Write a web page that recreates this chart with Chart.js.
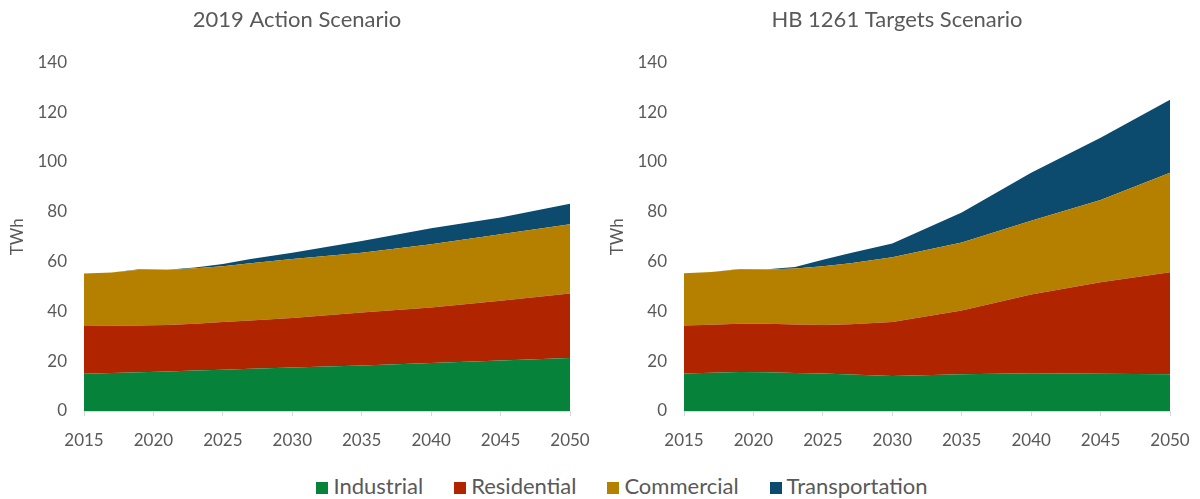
<!DOCTYPE html>
<html>
<head>
<meta charset="utf-8">
<script src="https://cdn.jsdelivr.net/npm/chart.js@4.4.0/dist/chart.umd.min.js"></script>
<style>
  body { margin: 0; background: #fff; width: 1200px; height: 499px; overflow: hidden; font-family: Lato, sans-serif; }
  .box { position: absolute; top: 0; width: 600px; height: 462px; }
  #legend { position: absolute; left: 44px; top: 472px; width: 1156px; display: flex; justify-content: center; gap: 31px; font-size: 22px; color: #595959; line-height: 28px; }
  #legend span.sw { display: inline-block; width: 12px; height: 12px; margin-right: 5px; vertical-align: 0px; }
</style>
</head>
<body>
<div class="box" style="left:0"><canvas id="chart-action"></canvas></div>
<div class="box" style="left:600px"><canvas id="chart-hb"></canvas></div>
<div id="legend"></div>

<script>
const years = [2015, 2017, 2019, 2021, 2023, 2025, 2027, 2030, 2035, 2040, 2045, 2050];
const seriesNames = ["Industrial", "Residential", "Commercial", "Transportation"];
const seriesColors = ["#07823a", "#b02400", "#b58000", "#0c4b6e"];

// 2019 Action Scenario (TWh)
const actionIndustrial     = [15.0, 15.3, 15.6, 15.9, 16.3, 16.6, 17.0, 17.5, 18.3, 19.3, 20.3, 21.3];
const actionResidential    = [19.1, 18.9, 18.7, 18.6, 18.7, 19.1, 19.3, 19.8, 21.3, 22.3, 24.0, 25.9];
const actionCommercial     = [21.1, 21.4, 22.4, 22.1, 22.3, 22.4, 23.0, 23.7, 24.0, 25.4, 26.7, 27.8];
const actionTransportation = [0, 0, 0.2, 0.1, 0.3, 0.9, 1.7, 2.6, 4.7, 6.4, 6.7, 8.2];

// HB 1261 Targets Scenario (TWh)
const hbIndustrial     = [15.1, 15.4, 15.7, 15.6, 15.3, 15.1, 14.7, 14.1, 14.8, 15.2, 15.0, 14.8];
const hbResidential    = [19.2, 19.2, 19.3, 19.4, 19.4, 19.4, 20.1, 21.6, 25.6, 31.6, 36.7, 40.9];
const hbCommercial     = [21.0, 21.2, 21.9, 21.8, 22.5, 23.6, 24.5, 26.0, 27.3, 29.6, 33.0, 40.0];
const hbTransportation = [0, 0, 0.1, 0.1, 0.6, 2.6, 4.2, 5.6, 12.0, 19.3, 25.0, 29.3];

const yTicks = [0, 20, 40, 60, 80, 100, 120, 140];
const xTicks = [2015, 2020, 2025, 2030, 2035, 2040, 2045, 2050];

const textColor = "#595959";
Chart.defaults.font.family = "Lato, sans-serif";
Chart.defaults.color = textColor;

function makeDatasets(lists) {
  return lists.map((vals, i) => ({
    label: seriesNames[i],
    data: vals.map((v, j) => ({ x: years[j], y: v })),
    backgroundColor: seriesColors[i],
    borderColor: seriesColors[i],
    borderWidth: 0,
    pointRadius: 0,
    tension: 0,
    fill: i === 0 ? "origin" : "-1",
  }));
}

function makeChart(id, title, lists) {
  const ctx = document.getElementById(id).getContext("2d");
  return new Chart(ctx, {
    type: "line",
    data: { datasets: makeDatasets(lists) },
    options: {
      responsive: true,
      maintainAspectRatio: false,
      animation: false,
      layout: { padding: { left: 24, right: 30, top: 0, bottom: 0 } },
      plugins: {
        legend: { display: false },
        tooltip: { enabled: false },
        title: {
          display: true,
          text: title,
          color: textColor,
          font: { size: 22, weight: "normal" },
          padding: { top: 7, bottom: 29 },
        },
      },
      scales: {
        x: {
          type: "linear",
          min: 2015,
          max: 2050,
          afterBuildTicks: (scale) => { scale.ticks = xTicks.map((v) => ({ value: v })); },
          afterFit: (scale) => { scale.height = 51; },
          ticks: {
            color: textColor,
            font: { size: 17, lineHeight: 2.2 },
            padding: 6,
            maxRotation: 0,
            callback: (v) => String(v),
          },
          grid: { drawOnChartArea: false, drawTicks: true, tickLength: 5, color: "#d9d9d9" },
          border: { display: true, color: "#d9d9d9" },
        },
        y: {
          stacked: true,
          min: 0,
          max: 140,
          afterBuildTicks: (scale) => { scale.ticks = yTicks.map((v) => ({ value: v })); },
          afterFit: (scale) => { scale.width = 60; },
          title: {
            display: true,
            text: "TWh",
            color: textColor,
            font: { size: 17 },
            padding: { top: -17, bottom: 0 },
          },
          ticks: { color: textColor, font: { size: 17 }, padding: 17 },
          grid: { display: false, drawTicks: false },
          border: { display: false },
        },
      },
    },
  });
}

makeChart("chart-action", "2019 Action Scenario",
  [actionIndustrial, actionResidential, actionCommercial, actionTransportation]);
makeChart("chart-hb", "HB 1261 Targets Scenario",
  [hbIndustrial, hbResidential, hbCommercial, hbTransportation]);

const legend = document.getElementById("legend");
seriesNames.forEach((name, i) => {
  const item = document.createElement("div");
  item.innerHTML = '<span class="sw" style="background:' + seriesColors[i] + '"></span>' + name;
  legend.appendChild(item);
});
</script>
</body>
</html>
